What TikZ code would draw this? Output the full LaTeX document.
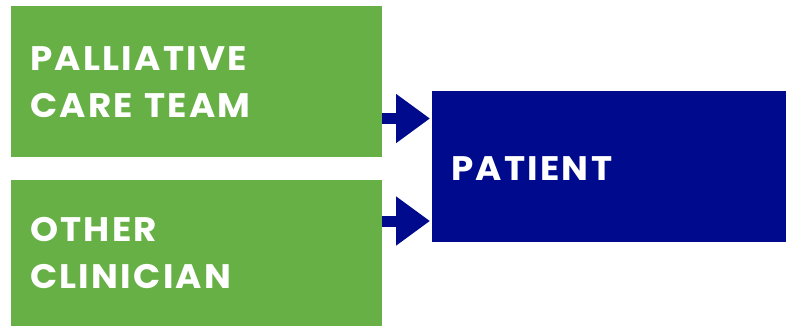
\documentclass[tikz,border=0pt]{standalone}
\usepackage{fontspec}
\setmainfont{Poppins}[BoldFont={* Bold},LetterSpace=6.6,FakeStretch=1.05,WordSpace=1.6]
\usetikzlibrary{arrows.meta}
\definecolor{teamgreen}{HTML}{66B046}
\definecolor{patientblue}{HTML}{000A8C}

\begin{document}
\begin{tikzpicture}[x=1pt, y=-1pt,
  box/.style={rectangle, inner xsep=19pt, inner ysep=0pt, anchor=north west,
    text=white, align=left, font=\bfseries\fontsize{34}{47}\selectfont},
  arr/.style={patientblue, line width=11pt, -{Triangle[length=34pt 0 0, width=47pt 0 0]}, shorten >=2pt}]
\useasboundingbox (0,0) rectangle (786,327);

\node[box, fill=teamgreen, minimum width=371pt, minimum height=151pt, text width=333pt] (pct) at (11,6) {PALLIATIVE\\CARE TEAM};
\node[box, fill=teamgreen, minimum width=371pt, minimum height=146pt, text width=333pt] (oc) at (11,180) {OTHER\\CLINICIAN};
\node[box, fill=patientblue, minimum width=354pt, minimum height=151pt, text width=316pt,
  text height=28pt, text depth=0pt] (patient) at (432,91) {PATIENT};

\draw[arr] (pct.east |- 0,118.5) -- (patient.west |- 0,118.5);
\draw[arr] (oc.east |- 0,221) -- (patient.west |- 0,221);

\end{tikzpicture}
\end{document}
